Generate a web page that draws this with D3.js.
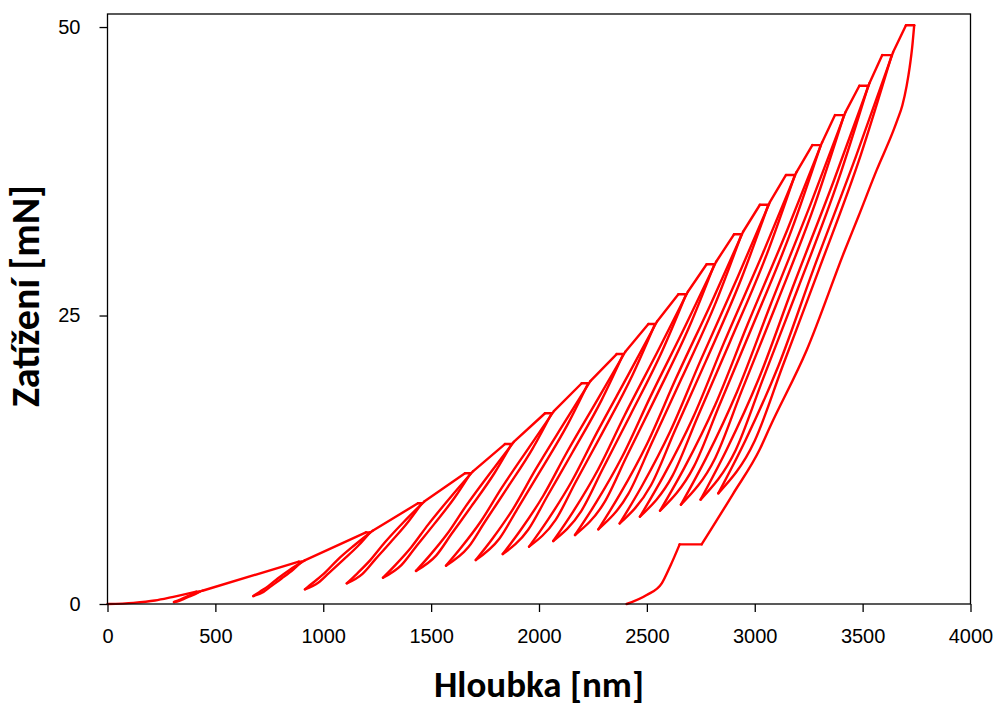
<!DOCTYPE html>
<html>
<head>
<meta charset="utf-8">
<script src="https://cdn.jsdelivr.net/npm/d3@7"></script>
<style>
  body { margin: 0; background: #fff; }
  svg { display: block; font-family: Carlito, Calibri, Lato, sans-serif; }
  .tick text { font-size: 20px; fill: #000; }
  .tick line { stroke: #000; stroke-width: 1.3px; }
</style>
</head>
<body>
<div id="chart"></div>
<script>
// cyclic indentation: hold at each peak, partial unload to ~20 %, reload
const holdStart = [412, 887, 1198, 1439, 1657, 1842, 2028, 2198, 2360, 2507, 2646, 2777, 2904, 3024, 3145, 3267, 3372, 3485, 3591, 3701];
const holdEnd   = [427, 901, 1217, 1457, 1683, 1873, 2059, 2228, 2391, 2538, 2682, 2813, 2939, 3063, 3186, 3306, 3414, 3526, 3635, 3739];
const peakLoad  = [1.07, 3.67, 6.21, 8.73, 11.33, 13.86, 16.53, 19.13, 21.66, 24.27, 26.84, 29.44, 32.04, 34.6, 37.18, 39.77, 42.37, 44.91, 47.57, 50.15];
const minDepth  = [308, 676, 915, 1109, 1277, 1430, 1569, 1707, 1832, 1954, 2066, 2167, 2275, 2374, 2468, 2561, 2658, 2749, 2831];
const minLoad   = [0.17, 0.69, 1.27, 1.79, 2.28, 2.87, 3.32, 3.81, 4.33, 4.97, 5.46, 5.98, 6.47, 6.98, 7.57, 8.08, 8.61, 9.05, 9.59];

// points along each unloading branch (top -> bottom), [depth nm, load mN]
const unloadPts = [
  [[406,0.86],[377,0.63],[352,0.43],[333,0.28]],
  [[861,2.99],[807,2.21],[759,1.55],[723,1.05]],
  [[1163,5.07],[1090,3.79],[1027,2.70],[978,1.86]],
  [[1394,7.13],[1311,5.33],[1238,3.80],[1182,2.62]],
  [[1610,9.25],[1513,6.90],[1427,4.90],[1362,3.37]],
  [[1793,11.33],[1687,8.48],[1594,6.06],[1523,4.19]],
  [[1971,13.49],[1853,10.06],[1750,7.15],[1672,4.91]],
  [[2134,15.61],[2009,11.62],[1900,8.25],[1816,5.65]],
  [[2290,17.67],[2156,13.17],[2039,9.36],[1949,6.41]],
  [[2433,19.83],[2293,14.81],[2170,10.57],[2077,7.29]],
  [[2571,21.92],[2423,16.36],[2294,11.66],[2195,8.03]],
  [[2697,24.04],[2542,17.95],[2406,12.78],[2303,8.80]],
  [[2820,26.16],[2660,19.51],[2521,13.89],[2414,9.54]],
  [[2939,28.25],[2774,21.07],[2629,14.99],[2519,10.29]],
  [[3057,30.37],[2884,22.67],[2734,16.16],[2619,11.12]],
  [[3172,32.48],[2993,24.24],[2837,17.27],[2717,11.88]],
  [[3278,34.61],[3097,25.83],[2938,18.40],[2817,12.66]],
  [[3386,36.66],[3200,27.34],[3037,19.45],[2912,13.35]],
  [[3490,38.84],[3297,28.96],[3129,20.60],[3000,14.15]]
];

// points along each reloading branch (bottom -> top)
const reloadPts = [
  [[322,0.28],[342,0.43],[365,0.63],[396,0.86]],
  [[705,1.05],[745,1.55],[789,2.21],[847,2.99]],
  [[954,1.86],[1007,2.70],[1064,3.79],[1143,5.07]],
  [[1156,2.62],[1218,3.80],[1285,5.33],[1374,7.13]],
  [[1334,3.37],[1407,4.90],[1487,6.90],[1590,9.25]],
  [[1493,4.19],[1574,6.06],[1661,8.48],[1773,11.33]],
  [[1640,4.91],[1730,7.15],[1827,10.06],[1951,13.49]],
  [[1784,5.65],[1880,8.25],[1983,11.62],[2114,15.61]],
  [[1915,6.41],[2019,9.36],[2130,13.17],[2270,17.67]],
  [[2041,7.29],[2150,10.57],[2267,14.81],[2413,19.83]],
  [[2159,8.03],[2274,11.66],[2397,16.36],[2551,21.92]],
  [[2265,8.80],[2386,12.78],[2516,17.95],[2677,24.04]],
  [[2376,9.54],[2501,13.89],[2634,19.51],[2800,26.16]],
  [[2479,10.29],[2609,14.99],[2748,21.07],[2919,28.25]],
  [[2578,11.12],[2714,16.16],[2858,22.67],[3037,30.37]],
  [[2676,11.88],[2817,17.27],[2967,24.24],[3152,32.48]],
  [[2775,12.66],[2918,18.40],[3071,25.83],[3258,34.61]],
  [[2869,13.35],[3017,19.45],[3174,27.34],[3366,36.66]],
  [[2956,14.15],[3109,20.60],[3271,28.96],[3470,38.84]]
];

// where the reload joins the loading envelope again
const reloadEnd = [[440,1.15],[914,3.78],[1229,6.35],[1468,8.88],[1694,11.50],[1883,14.04],[2069,16.71],[2238,19.32],[2400,21.86],[2547,24.48],[2690,27.06],[2821,29.66],[2946,32.26],[3070,34.82],[3193,37.41],[3312,40.00],[3420,42.60],[3532,45.15],[3641,47.81]];

const firstLoading = [[0,0],[120,0.1],[220,0.3],[300,0.6],[412,1.07]];
const finalUnload  = [[3739,50.15],[3730,48.3],[3718,46.5],[3704,44.9],[3684,43.2],[3662,42.0],[3642,41.0],[3565,37.6],[3480,33.56],[3418,30.68],[3241,22.01],[3071,15.36],[3024,13.43],[2899,9.53],[2754,5.17]];
const finalHold    = [[2754,5.17],[2652,5.17]];
const finalToZero  = [[2652,5.17],[2607,3.23],[2569,1.79],[2499,0.78],[2406,0]];

const xTicks = [0, 500, 1000, 1500, 2000, 2500, 3000, 3500, 4000];
const yTicks = [0, 25, 50];

const width = 1001, height = 706;
const margin = {top: 14, right: 30.5, bottom: 102, left: 107.5};

const svg = d3.select("#chart").append("svg")
    .attr("width", width)
    .attr("height", height);

const x = d3.scaleLinear().domain([0, 4000]).range([margin.left, width - margin.right]);
const y = d3.scaleLinear().domain([0, 51.13]).range([height - margin.bottom, margin.top]);

// build every piece of the curve
let segments = [firstLoading];
peakLoad.forEach((p, i) => {
    segments.push([[holdStart[i], p], [holdEnd[i], p]]);
    if (i < minDepth.length) {
        segments.push([[holdEnd[i], p], ...unloadPts[i], [minDepth[i], minLoad[i]]]);
        segments.push([[minDepth[i], minLoad[i]], ...reloadPts[i], reloadEnd[i]]);
        segments.push([reloadEnd[i], [holdStart[i + 1], peakLoad[i + 1]]]);
    }
});
segments.push(finalUnload, finalHold, finalToZero);

const line = d3.line()
    .x(d => x(d[0]))
    .y(d => y(d[1]))
    .curve(d3.curveMonotoneX);

svg.append("g")
    .selectAll("path")
    .data(segments)
    .join("path")
    .attr("d", line)
    .attr("fill", "none")
    .attr("stroke", "#ff0000")
    .attr("stroke-width", 2.4)
    .attr("stroke-linecap", "round")
    .attr("stroke-linejoin", "round");

// plot frame
svg.append("rect")
    .attr("x", x(0))
    .attr("y", y(51.13))
    .attr("width", x(4000) - x(0))
    .attr("height", y(0) - y(51.13))
    .attr("fill", "none")
    .attr("stroke", "#000")
    .attr("stroke-width", 1.3);

const xAxis = svg.append("g")
    .attr("transform", `translate(0,${y(0)})`)
    .call(d3.axisBottom(x).tickValues(xTicks).tickSize(8).tickPadding(17).tickFormat(d3.format("d")));
xAxis.select(".domain").remove();

const yAxis = svg.append("g")
    .attr("transform", `translate(${x(0)},0)`)
    .call(d3.axisLeft(y).tickValues(yTicks).tickSize(8).tickPadding(19));
yAxis.select(".domain").remove();

svg.append("text")
    .attr("x", 539)
    .attr("y", 697)
    .attr("text-anchor", "middle")
    .style("font-size", "37px")
    .style("font-weight", "bold")
    .text("Hloubka [nm]");

svg.append("text")
    .attr("transform", "translate(39,296) rotate(-90)")
    .attr("text-anchor", "middle")
    .style("font-size", "40px")
    .style("font-weight", "bold")
    .text("Zatížení [mN]");
</script>
</body>
</html>
